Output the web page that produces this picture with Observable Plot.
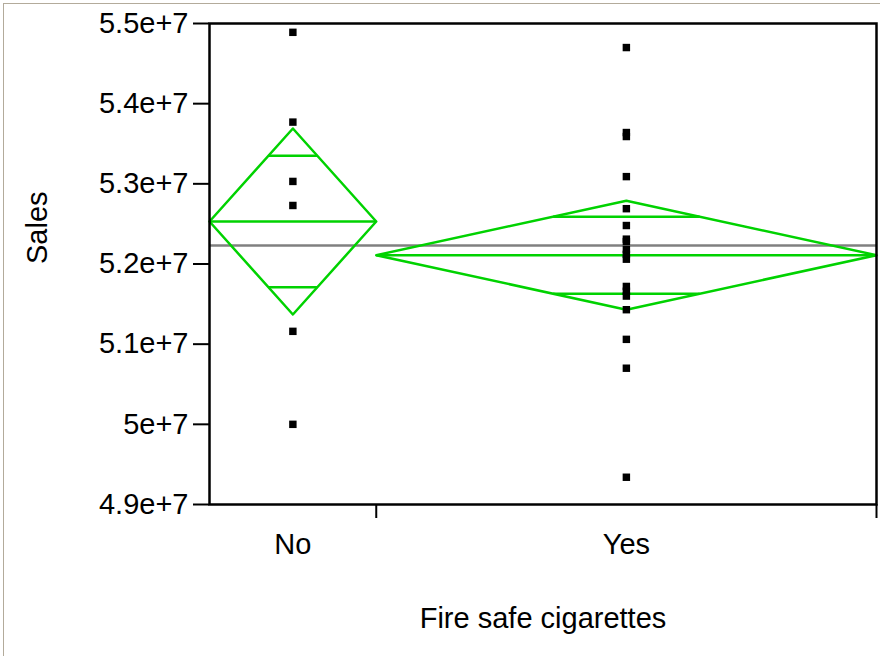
<!DOCTYPE html>
<html>
<head>
<meta charset="utf-8">
<script src="https://cdn.jsdelivr.net/npm/d3@7"></script>
<script src="https://cdn.jsdelivr.net/npm/@observablehq/plot@0.6"></script>
<style>
  html, body { margin: 0; padding: 0; background: #fff; }
  #wrap { position: relative; width: 880px; height: 656px; overflow: hidden; }
  #edge { position: absolute; left: 3px; top: 3px; right: 0; bottom: 0;
          border-left: 1px solid #b3ab9b; border-top: 1px solid #b3ab9b; pointer-events: none; }
  #wrap svg { position: absolute; left: 0; top: 0; }
</style>
</head>
<body>
<div id="wrap"><div id="edge"></div></div>
<script>
// Oneway analysis of Sales by Fire safe cigarettes
const groups = ["No", "Yes"];
const salesNo = [54.89e6, 53.77e6, 53.03e6, 52.73e6, 51.16e6, 50.00e6];
const salesYes = [
  54.70e6, 53.64e6, 53.59e6, 53.09e6, 52.69e6, 52.48e6, 52.31e6, 52.28e6, 52.18e6,
  52.12e6, 52.06e6, 51.72e6, 51.66e6, 51.60e6, 51.43e6, 51.06e6, 50.70e6, 49.34e6
];
// Means diamonds: group mean and 95% confidence limits
const groupMeans = [52.53e6, 52.11e6];
const ciLower = [51.37e6, 51.43e6];
const ciUpper = [53.69e6, 52.79e6];
const grandMean = 52.23e6;

const yTicks = [49e6, 50e6, 51e6, 52e6, 53e6, 54e6, 55e6];
const yTickLabels = ["4.9e+7", "5e+7", "5.1e+7", "5.2e+7", "5.3e+7", "5.4e+7", "5.5e+7"];
const xLabel = "Fire safe cigarettes";
const yLabel = "Sales";

const green = "#00d200";
const FONT = 29;

// Each group occupies a band on x whose width is proportional to its sample size
const samples = [salesNo, salesYes];
let start = 0;
const bands = groups.map((g, i) => {
  const n = samples[i].length;
  const b = { group: g, x0: start, x1: start + n, xc: start + n / 2, half: n / 2,
              mean: groupMeans[i], lo: ciLower[i], hi: ciUpper[i] };
  start += n;
  return b;
});
const total = start;
const bounds = bands.map(b => b.x1);
const centers = bands.map(b => b.xc);

const points = bands.flatMap((b, i) => samples[i].map(v => ({ group: b.group, x: b.xc, sales: v })));

const diamondPts = bands.flatMap(b => [
  { group: b.group, x: b.x0, y: b.mean },
  { group: b.group, x: b.xc, y: b.hi },
  { group: b.group, x: b.x1, y: b.mean },
  { group: b.group, x: b.xc, y: b.lo },
  { group: b.group, x: b.x0, y: b.mean }
]);

// Overlap marks sit at mean ± (CI half-width)/√2, spanning the diamond at that level
const overlap = bands.flatMap(b => {
  const h = (b.hi - b.mean) / Math.SQRT2;
  const w = b.half * (1 - 1 / Math.SQRT2);
  return [1, -1].map(s => ({ x1: b.xc - w, x2: b.xc + w, y: b.mean + s * h }));
});

const chart = Plot.plot({
  width: 880,
  height: 656,
  marginLeft: 209,
  marginRight: 4,
  marginTop: 23,
  marginBottom: 152,
  x: { domain: [0, total] },
  y: { domain: [49e6, 55e6] },
  style: { fontFamily: "'Liberation Sans', Arial, sans-serif", background: "transparent", color: "black" },
  marks: [
    Plot.ruleY([grandMean], { stroke: "#808080", strokeWidth: 2.5 }),
    Plot.line(diamondPts, { x: "x", y: "y", z: "group", stroke: green, strokeWidth: 2.5 }),
    Plot.link(bands, { x1: "x0", x2: "x1", y1: "mean", y2: "mean", stroke: green, strokeWidth: 2.5 }),
    Plot.link(overlap, { x1: "x1", x2: "x2", y1: "y", y2: "y", stroke: green, strokeWidth: 2.5 }),
    Plot.dot(points, { x: "x", y: "sales", symbol: "square", r: 4.2, fill: "black", stroke: "none" }),
    Plot.frame({ stroke: "black", strokeWidth: 2.5 }),
    Plot.axisY({ ticks: yTicks, tickFormat: d => yTickLabels[yTicks.indexOf(d)], tickSize: 16,
                 tickPadding: 5, fontSize: FONT, strokeWidth: 2, label: null }),
    Plot.axisX({ ticks: bounds, tickSize: 14, tickFormat: () => "", strokeWidth: 2, label: null }),
    Plot.axisX({ ticks: centers, tickSize: 0, tickPadding: 29, fontSize: FONT,
                 tickFormat: d => groups[centers.indexOf(d)], label: null }),
    Plot.text([xLabel], { frameAnchor: "bottom", dy: 123, fontSize: FONT }),
    Plot.text([yLabel], { frameAnchor: "left", dx: -172, rotate: -90, fontSize: FONT })
  ]
});

document.getElementById("wrap").appendChild(chart);
</script>
</body>
</html>
